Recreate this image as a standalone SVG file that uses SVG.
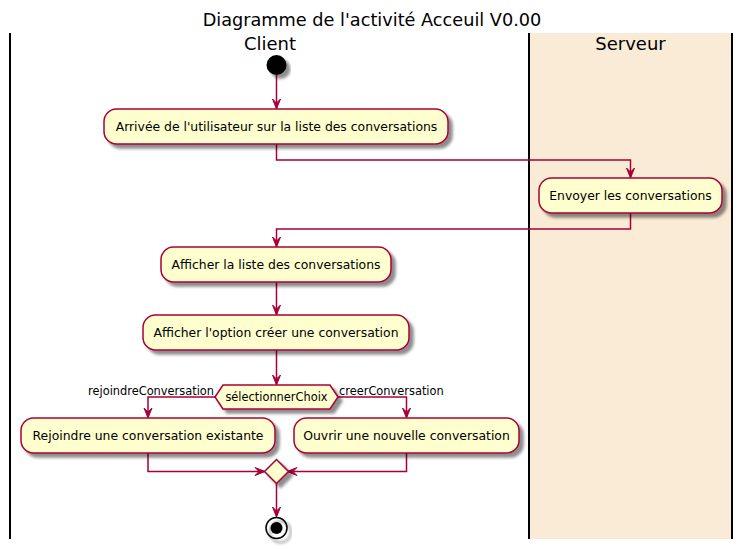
<svg xmlns="http://www.w3.org/2000/svg" width="743" height="549" viewBox="0 0 743 549">
<defs>
<filter id="sh" x="-10%" y="-20%" width="130%" height="160%">
<feGaussianBlur in="SourceAlpha" stdDeviation="1.7"/>
<feOffset dx="4" dy="4" result="b"/>
<feComponentTransfer><feFuncA type="linear" slope="0.45"/></feComponentTransfer>
<feMerge><feMergeNode/><feMergeNode in="SourceGraphic"/></feMerge>
</filter>
</defs>
<style>
text{font-family:"DejaVu Sans","Liberation Sans",sans-serif;fill:#000}
.box{fill:#FEFECE;stroke:#A80036;stroke-width:1.5;filter:url(#sh)}
.t{font-size:12.4px;text-anchor:middle}
.lbl{font-size:11.4px}
.ln{fill:none;stroke:#A80036;stroke-width:1.5}
.ah{fill:#A80036;stroke:#A80036;stroke-width:1}
.lane{stroke:#000;stroke-width:2}
.hdr{font-size:18px;text-anchor:middle}
</style>
<rect width="743" height="549" fill="#fff"/>
<text x="372" y="26" style="font-size:17.7px;text-anchor:middle">Diagramme de l'activité Acceuil V0.00</text>
<g id="lanes">
<rect x="529" y="33" width="203" height="506" fill="#FAEBD7"/>
<line class="lane" x1="10" y1="33" x2="10" y2="539"/>
<line class="lane" x1="529" y1="33" x2="529" y2="539"/>
<line class="lane" x1="732" y1="33" x2="732" y2="539"/>
<text class="hdr" x="270" y="50">Client</text>
<text class="hdr" x="630.5" y="50">Serveur</text>
</g>
<g id="connectors">
<path class="ln" d="M276.5,75 V108"/>
<polygon class="ah" points="272.5,99 276.5,109 280.5,99 276.5,103"/>
<path class="ln" d="M276.5,144 V160 H630.5 V177"/>
<polygon class="ah" points="626.5,168 630.5,178 634.5,168 630.5,172"/>
<path class="ln" d="M630.5,213 V229 H276.5 V246"/>
<polygon class="ah" points="272.5,237 276.5,247 280.5,237 276.5,241"/>
<path class="ln" d="M276.5,282 V314"/>
<polygon class="ah" points="272.5,305 276.5,315 280.5,305 276.5,309"/>
<path class="ln" d="M276.5,350 V384"/>
<polygon class="ah" points="272.5,375 276.5,385 280.5,375 276.5,379"/>
<path class="ln" d="M215,397 H148 V417"/>
<polygon class="ah" points="144,408 148,418 152,408 148,412"/>
<path class="ln" d="M338,397 H406.5 V417"/>
<polygon class="ah" points="402.5,408 406.5,418 410.5,408 406.5,412"/>
<path class="ln" d="M148,453 V471.5 H264"/>
<polygon class="ah" points="255,467.5 265,471.5 255,475.5 259,471.5"/>
<path class="ln" d="M406.5,453 V471.5 H288"/>
<polygon class="ah" points="297,467.5 287,471.5 297,475.5 293,471.5"/>
<path class="ln" d="M276.5,483 V516"/>
<polygon class="ah" points="272.5,507 276.5,517 280.5,507 276.5,511"/>
<text class="lbl" x="214" y="395" text-anchor="end">rejoindreConversation</text>
<text class="lbl" x="339" y="395">creerConversation</text>
</g>
<g id="start">
<circle cx="276.5" cy="65" r="10" fill="#000" filter="url(#sh)"/>
</g>
<g id="n1">
<rect class="box" x="104" y="109" width="344" height="35" rx="12.5"/>
<text class="t" x="276.5" y="131">Arrivée de l'utilisateur sur la liste des conversations</text>
</g>
<g id="n2">
<rect class="box" x="539" y="178" width="183" height="35" rx="12.5"/>
<text class="t" x="630.5" y="200">Envoyer les conversations</text>
</g>
<g id="n3">
<rect class="box" x="161" y="247" width="230" height="35" rx="12.5"/>
<text class="t" x="276" y="269">Afficher la liste des conversations</text>
</g>
<g id="n4">
<rect class="box" x="143" y="315" width="266" height="35" rx="12.5"/>
<text class="t" x="276" y="337">Afficher l'option créer une conversation</text>
</g>
<g id="choice">
<polygon class="box" points="215,397 223,385 330,385 338,397 330,409 223,409"/>
<text x="276.5" y="401" style="font-size:11.4px;text-anchor:middle">sélectionnerChoix</text>
</g>
<g id="n5">
<rect class="box" x="21" y="418" width="254" height="35" rx="12.5"/>
<text class="t" x="148" y="440">Rejoindre une conversation existante</text>
</g>
<g id="n6">
<rect class="box" x="294" y="418" width="225" height="35" rx="12.5"/>
<text class="t" x="406.5" y="440">Ouvrir une nouvelle conversation</text>
</g>
<g id="merge">
<polygon class="box" points="276.5,459.5 288.5,471.5 276.5,483.5 264.5,471.5"/>
</g>
<g id="end">
<circle cx="276.5" cy="528" r="10.5" fill="none" stroke="#000" stroke-width="1.5" filter="url(#sh)"/>
<circle cx="276.5" cy="528" r="6" fill="#000"/>
</g>
</svg>
